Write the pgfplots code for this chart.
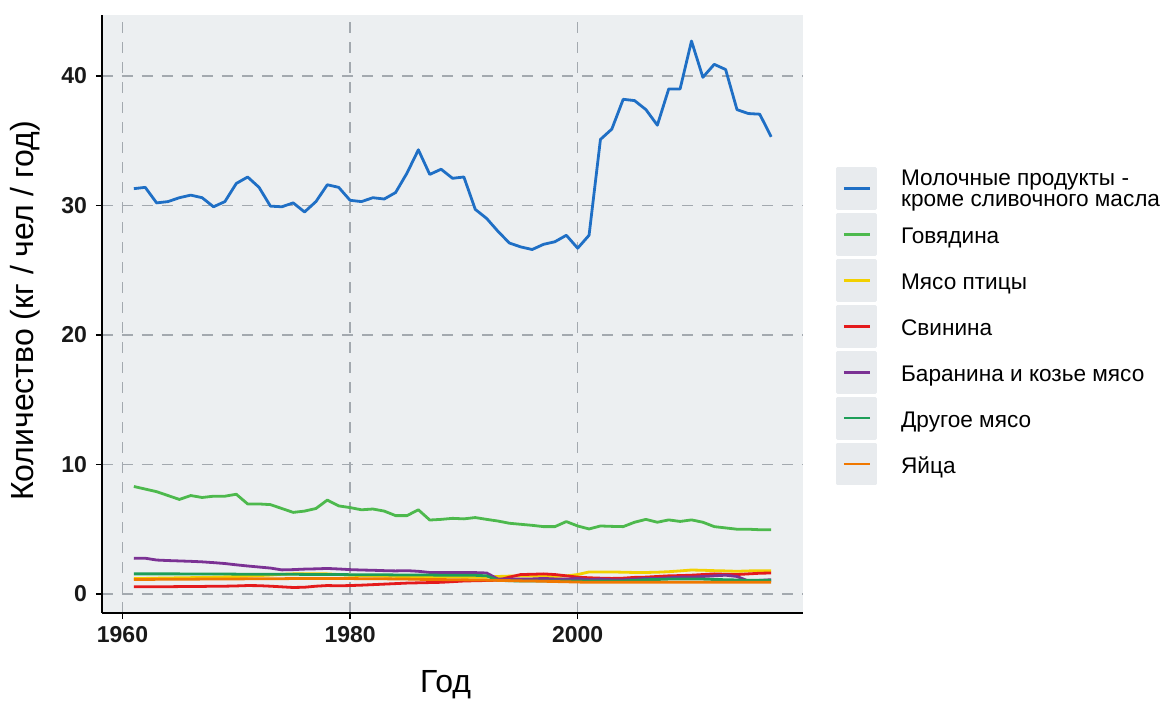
\documentclass[border=0pt]{standalone}
\usepackage{fontspec}
\setmainfont{Liberation Sans}
\usepackage{pgfplots}
\usepackage{pgfplotstable}
\pgfplotsset{compat=1.18}
\definecolor{panelbg}{HTML}{ECEFF1}
\definecolor{keybg}{HTML}{E8EBEE}
\definecolor{gridc}{HTML}{A3A9AF}
\definecolor{cdairy}{HTML}{1F6FC5}
\definecolor{cbeef}{HTML}{4DB94D}
\definecolor{cpoultry}{HTML}{F2D000}
\definecolor{cpork}{HTML}{E41A1C}
\definecolor{cmutton}{HTML}{7B3294}
\definecolor{cother}{HTML}{1E9E58}
\definecolor{ceggs}{HTML}{F07800}
\pgfplotstableread{
year dairy beef poultry pork mutton other eggs
1961 31.3 8.3 1.20 0.55 2.75 1.55 1.12
1962 31.4 8.1 1.20 0.55 2.76 1.55 1.12
1963 30.2 7.9 1.22 0.56 2.62 1.55 1.13
1964 30.3 7.6 1.23 0.56 2.58 1.55 1.13
1965 30.6 7.3 1.25 0.57 2.55 1.55 1.14
1966 30.8 7.6 1.26 0.58 2.52 1.54 1.14
1967 30.6 7.45 1.28 0.58 2.48 1.54 1.15
1968 29.9 7.55 1.30 0.60 2.42 1.54 1.15
1969 30.3 7.55 1.32 0.60 2.35 1.54 1.16
1970 31.7 7.7 1.35 0.62 2.25 1.53 1.16
1971 32.2 6.95 1.38 0.65 2.16 1.53 1.17
1972 31.4 6.95 1.42 0.64 2.08 1.53 1.17
1973 29.95 6.9 1.46 0.60 2.00 1.52 1.18
1974 29.9 6.6 1.52 0.55 1.86 1.52 1.18
1975 30.2 6.3 1.55 0.50 1.88 1.52 1.19
1976 29.5 6.4 1.56 0.52 1.92 1.51 1.19
1977 30.3 6.6 1.55 0.60 1.94 1.51 1.20
1978 31.6 7.25 1.55 0.65 1.97 1.50 1.20
1979 31.4 6.8 1.50 0.63 1.93 1.50 1.19
1980 30.4 6.67 1.45 0.65 1.88 1.49 1.19
1981 30.3 6.5 1.42 0.68 1.85 1.49 1.18
1982 30.6 6.56 1.40 0.72 1.83 1.48 1.18
1983 30.5 6.4 1.38 0.76 1.80 1.48 1.17
1984 31.0 6.05 1.36 0.80 1.78 1.47 1.16
1985 32.5 6.05 1.35 0.84 1.80 1.47 1.15
1986 34.3 6.5 1.34 0.86 1.75 1.46 1.13
1987 32.4 5.71 1.33 0.88 1.66 1.46 1.12
1988 32.8 5.76 1.32 0.90 1.65 1.45 1.11
1989 32.1 5.84 1.31 0.95 1.65 1.45 1.10
1990 32.2 5.8 1.30 1.00 1.65 1.45 1.09
1991 29.7 5.9 1.30 1.02 1.65 1.44 1.08
1992 29.0 5.76 1.30 1.04 1.62 1.40 1.07
1993 28.0 5.63 1.35 1.06 1.15 1.05 1.05
1994 27.1 5.46 1.38 1.30 1.15 1.02 1.03
1995 26.8 5.38 1.40 1.50 1.15 1.00 1.01
1996 26.6 5.3 1.38 1.52 1.16 1.00 1.00
1997 27.0 5.2 1.36 1.55 1.20 1.00 0.98
1998 27.2 5.2 1.35 1.50 1.16 1.00 0.96
1999 27.7 5.59 1.40 1.40 1.15 1.00 0.94
2000 26.7 5.25 1.50 1.30 1.20 1.00 0.92
2001 27.7 5.02 1.70 1.25 1.10 1.00 0.90
2002 35.1 5.25 1.70 1.22 1.15 1.00 0.90
2003 35.9 5.22 1.70 1.20 1.10 1.00 0.90
2004 38.2 5.2 1.68 1.22 1.10 1.00 0.90
2005 38.1 5.54 1.66 1.28 1.15 1.05 0.90
2006 37.4 5.76 1.66 1.30 1.20 1.10 0.90
2007 36.2 5.54 1.68 1.35 1.20 1.12 0.90
2008 39.0 5.72 1.72 1.40 1.25 1.15 0.90
2009 39.0 5.6 1.78 1.42 1.30 1.15 0.90
2010 42.7 5.72 1.85 1.45 1.30 1.15 0.91
2011 39.9 5.54 1.83 1.50 1.35 1.15 0.91
2012 40.9 5.2 1.80 1.55 1.40 1.12 0.91
2013 40.5 5.1 1.78 1.52 1.45 1.10 0.91
2014 37.4 5.0 1.75 1.50 1.35 1.08 0.91
2015 37.1 5.0 1.78 1.55 1.00 1.05 0.91
2016 37.05 4.96 1.80 1.60 1.05 1.05 0.91
2017 35.3 4.96 1.80 1.62 1.10 1.05 0.91
}\datatable
\begin{document}
\begin{tikzpicture}
\useasboundingbox (-51pt,-44.5pt) rectangle (533pt,306.5pt);
\begin{axis}[
  at={(0pt,0pt)}, anchor=south west,
  scale only axis, width=350.5pt, height=299pt,
  xmin=1958.2, xmax=2019.8, ymin=-1.47, ymax=44.71,
  xtick={1960,1980,2000}, ytick={0,10,20,30,40},
  xticklabel style={/pgf/number format/1000 sep={}},
  /pgf/number format/assume math mode=true,
  ticklabel style={font=\fontsize{11.5}{13}\selectfont\bfseries, text=black!90},
  yticklabel style={xshift=-1pt},
  axis background/.style={fill=panelbg},
  axis x line*=bottom, axis y line*=left,
  axis line style={-, line width=1.2pt, black},
  tick align=outside, major tick length=3pt,
  tick style={black, line width=0.8pt},
  xtick pos=bottom, ytick pos=left,
  grid=major,
  major grid style={gridc, line width=0.75pt, dash pattern=on 5.5pt off 4.5pt},
  xlabel={Год}, ylabel={Количество (кг / чел / год)},
  label style={font=\fontsize{16}{19}\selectfont},
  x label style={at={(axis description cs:0.49,-0.12)}, anchor=center},
  y label style={at={(axis description cs:-0.11,0.505)}, anchor=center, rotate=0},
  legend style={at={(axis description cs:1.047,0.746)}, anchor=north west,
    draw=none, fill=none, inner sep=0pt, row sep=1.55pt,
    font=\fontsize{11.3}{10.5}\selectfont,
    nodes={inner sep=0pt}},
  legend cell align=left,
  legend image code/.code={%
    \fill[keybg] (0pt,-8.5pt) rectangle (19pt,11.5pt);
    \draw[#1, line width=1.3pt] (3pt,1.5pt) -- (16pt,1.5pt);
    \path (31pt,0pt);},
  every axis plot/.append style={line width=1.4pt, line join=round},
]
\addplot[cdairy] table[x=year, y=dairy] {\datatable};
\addlegendentry{\raisebox{-3.5pt}{\smash{\begin{tabular}[c]{@{}l@{}}Молочные продукты -\\кроме сливочного масла\end{tabular}}}}
\addplot[cbeef] table[x=year, y=beef] {\datatable};
\addlegendentry{Говядина}
\addplot[cpoultry] table[x=year, y=poultry] {\datatable};
\addlegendentry{Мясо птицы}
\addplot[cpork] table[x=year, y=pork] {\datatable};
\addlegendentry{Свинина}
\addplot[cmutton] table[x=year, y=mutton] {\datatable};
\addlegendentry{Баранина и козье мясо}
\addplot[cother] table[x=year, y=other] {\datatable};
\addlegendentry{Другое мясо}
\addplot[ceggs] table[x=year, y=eggs] {\datatable};
\addlegendentry{Яйца}
\end{axis}
\end{tikzpicture}
\end{document}
